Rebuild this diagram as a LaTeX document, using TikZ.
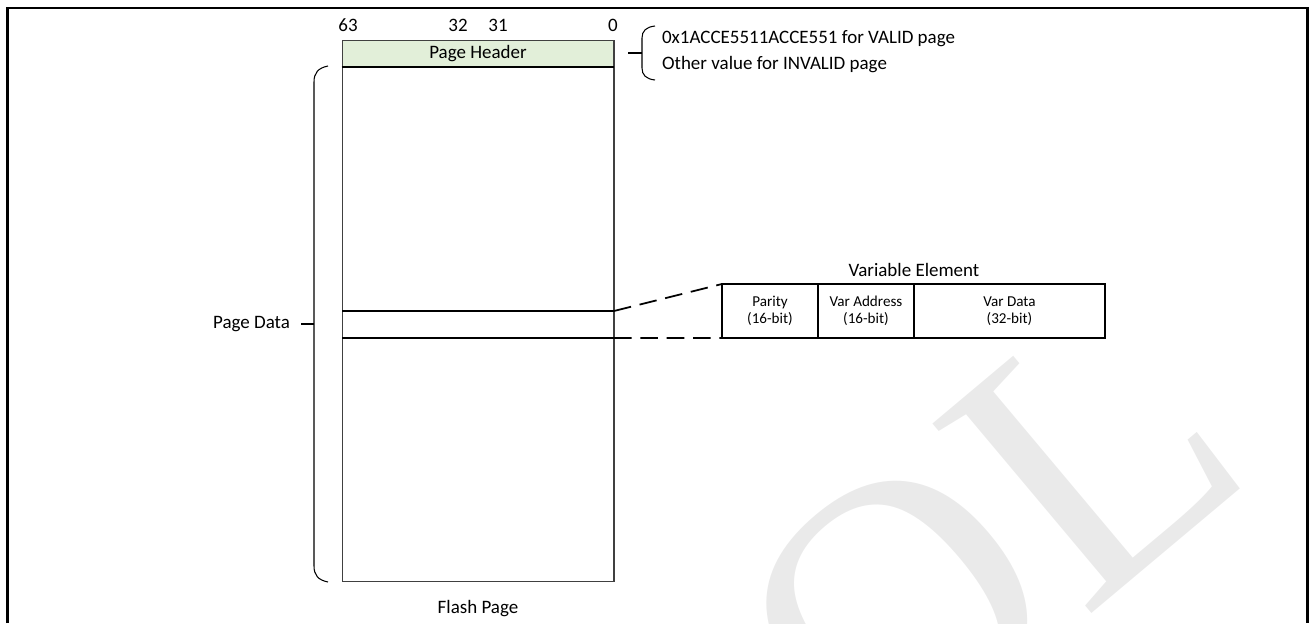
\documentclass[tikz,border=0pt]{standalone}
\usepackage{fontspec}
\setmainfont{Carlito}
\newfontfamily\wmfont{Liberation Serif}
\usetikzlibrary{positioning}
\definecolor{figline}{RGB}{64,64,64}
\definecolor{fighead}{RGB}{226,239,217}
\definecolor{figmark}{RGB}{234,234,234}
\tikzset{
  pgbox/.style ={draw=figline, line width=0.6pt, outer sep=0pt},
  pgsep/.style ={draw=black, line width=1.1pt},
  brc/.style   ={draw=black, line width=0.6pt},
  cell/.style  ={draw=black, line width=0.7pt, outer sep=0pt, minimum height=1.08cm,
                 align=center, inner sep=1pt, font=\fontsize{8.6}{10}\selectfont},
  lab/.style   ={font=\fontsize{10.8}{12}\selectfont, inner sep=1pt},
  wm/.style    ={rotate=40, text=figmark, inner sep=0pt, font=\wmfont\fontsize{215}{215}\selectfont},
  lnk/.style   ={draw=black, line width=1pt, dash pattern=on 10pt off 5pt},
}

\begin{document}
\begin{tikzpicture}[x=0.02cm,y=-0.02cm]
  \useasboundingbox (0,0) rectangle (1309,623);
  % watermark
  \node[wm] (wmo) at (898,612) {O};
  \node[wm] (wml) at (1092,452) {L};
  % frame
  \draw[line width=1.3pt] (7.5,623) -- (7.5,8) -- (1307.5,8) -- (1307.5,623);
  % flash page
  \node[fill=fighead, minimum width=5.44cm, minimum height=0.54cm, inner sep=0pt] (hdr) at (478,53.5) {};
  \node[lab] at (hdr) {Page Header};
  \node[pgbox, minimum width=5.44cm, minimum height=10.84cm] (pg) at (478,311) {};
  \draw[pgsep] (hdr.south west) -- (hdr.south east);
  \coordinate (e1a) at (614,311);
  \coordinate (e1b) at (614,338);
  \draw[pgsep] (e1a -| pg.west) -- (e1a);
  \draw[pgsep] (e1b -| pg.west) -- (e1b);
  \node[lab] (fp) at (478,609) {Flash Page};
  % bit numbers
  \node[lab] (b63) at (348,25) {63};
  \node[lab] (b32) at (458,25) {32};
  \node[lab] (b31) at (498,25) {31};
  \node[lab] (b0)  at (613,25) {0};
  % header brace
  \draw[brc] (655,26) .. controls (646,27) and (642,31) .. (642,38) -- (642,68)
    .. controls (642,75) and (646,79) .. (655,80);
  \coordinate (hb) at (642,53);
  \coordinate (ht) at (628,53);
  \draw[brc] (hb) -- (ht);
  \node[lab, anchor=west] (hv) at (660,39) {0x1ACCE5511ACCE551 for VALID page};
  \node[lab, anchor=west] (hi) at (660,65) {Other value for INVALID page};
  % data brace
  \draw[brc] (328,66) .. controls (318,68) and (314,73) .. (314,82) -- (314,566)
    .. controls (314,575) and (318,580) .. (328,582);
  \coordinate (db) at (314,324);
  \coordinate (dt) at (301,324);
  \draw[brc] (db) -- (dt);
  \node[lab, anchor=east] (pd) at (292,324) {Page Data};
  % variable element
  \node[cell, minimum width=1.92cm] (par) at (770,311) {Parity\\(16-bit)};
  \node[cell, minimum width=1.92cm, right=0pt of par] (adr) {Var Address\\(16-bit)};
  \node[cell, minimum width=3.82cm, right=0pt of adr] (dat) {Var Data\\(32-bit)};
  \node[lab, above=3pt of adr.north east] (ve) {Variable Element};
  \draw[lnk] (e1a) -- (par.north west);
  \draw[lnk] (e1b) -- (par.south west);
\end{tikzpicture}
\end{document}
